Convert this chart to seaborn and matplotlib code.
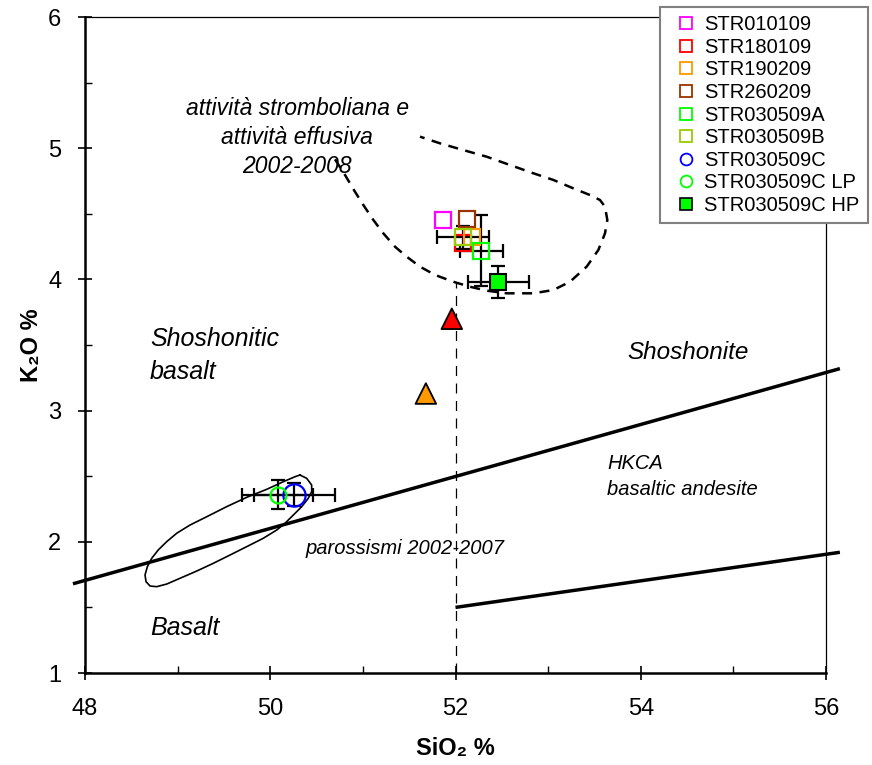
import numpy as np
import pandas as pd
import matplotlib
matplotlib.use('Agg')
import matplotlib.pyplot as plt
import seaborn as sns
from matplotlib.lines import Line2D

# sample data (SiO2 %, K2O %) with analytical errors
sample_names = ['STR010109', 'STR180109', 'STR190209', 'STR260209', 'STR030509A',
                'STR030509B', 'STR030509C', 'STR030509C LP', 'STR030509C HP']
sample_colors = ['#FF00FF', '#FF0000', '#FF9900', '#993300', '#00FF00',
                 '#99CC00', '#0000FF', '#00FF00', '#00FF00']
sample_markers = ['s', 's', 's', 's', 's', 's', 'o', 'o', 's']
sample_filled = [False, False, False, False, False, False, False, False, True]
sio2 = [51.87, 52.08, 52.18, 52.12, 52.28, 52.08, 50.26, 50.08, 52.46]
k2o = [4.45, 4.28, 4.32, 4.46, 4.22, 4.32, 2.36, 2.36, 3.98]
sio2_err = [0, 0, 0, 0, 0.23, 0.28, 0.44, 0.38, 0.33]
k2o_err = [0, 0, 0, 0, 0.27, 0.09, 0.09, 0.11, 0.12]

# triangles (no legend entry)
tri_sio2 = [51.96, 51.68]
tri_k2o = [3.70, 3.13]
tri_colors = ['#FF0000', '#FF9900']

# classification boundaries
shosho_line_x = [47.87, 56.15]
shosho_line_y = [1.68, 3.32]
hkca_line_x = [52.0, 56.15]
hkca_line_y = [1.50, 1.92]
split_x = [52.0, 52.0]
split_y = [1.0, 3.97]

# field of strombolian/effusive activity 2002-2008 (dashed)
field_a_x = [50.699, 50.807, 50.915, 51.005, 51.113, 51.221, 51.347, 51.473, 51.617, 51.779,
             51.976, 52.157, 52.337, 52.553, 52.840, 53.056, 53.236, 53.416, 53.542, 53.614,
             53.639, 53.614, 53.560, 53.452, 53.272, 53.056, 52.840, 52.588, 52.337, 52.084,
             51.833, 51.617]
field_a_y = [4.915, 4.796, 4.668, 4.567, 4.453, 4.351, 4.249, 4.173, 4.097, 4.034,
             3.982, 3.944, 3.914, 3.894, 3.894, 3.919, 3.982, 4.097, 4.224, 4.351,
             4.453, 4.554, 4.605, 4.643, 4.694, 4.758, 4.809, 4.872, 4.935, 4.986,
             5.037, 5.088]

# field of paroxysms 2002-2007 (closed solid)
field_p_x = [50.321, 50.393, 50.447, 50.447, 50.411, 50.340, 50.249, 50.159, 50.070, 49.925,
             49.746, 49.565, 49.385, 49.206, 49.026, 48.882, 48.774, 48.702, 48.659, 48.648,
             48.673, 48.720, 48.791, 48.882, 48.990, 49.134, 49.314, 49.530, 49.746, 49.962,
             50.141, 50.267, 50.321]
field_p_y = [2.509, 2.484, 2.433, 2.382, 2.332, 2.268, 2.204, 2.141, 2.090, 2.027,
             1.963, 1.899, 1.836, 1.777, 1.722, 1.678, 1.658, 1.663, 1.696, 1.747,
             1.810, 1.874, 1.938, 2.001, 2.065, 2.128, 2.191, 2.268, 2.339, 2.400,
             2.458, 2.496, 2.509]

sns.set_style('ticks')
plt.rcParams['font.family'] = ['Liberation Sans', 'DejaVu Sans']
plt.rcParams['text.color'] = 'black'
plt.rcParams['axes.labelcolor'] = 'black'
plt.rcParams['axes.edgecolor'] = 'black'
plt.rcParams['xtick.color'] = 'black'
plt.rcParams['ytick.color'] = 'black'

fig = plt.figure(figsize=(8.72, 7.65), dpi=100)
ax = fig.add_axes([85 / 872, 1 - 673 / 765, 741 / 872, 656 / 765])

# fields
sns.lineplot(x=field_a_x, y=field_a_y, sort=False, estimator=None, ax=ax,
             color='black', lw=1.8, linestyle=(0, (4, 3)))
sns.lineplot(x=field_p_x, y=field_p_y, sort=False, estimator=None, ax=ax,
             color='black', lw=1.2)

# boundaries
ax.plot(shosho_line_x, shosho_line_y, color='black', lw=2.5, clip_on=False, solid_capstyle='butt')
ax.plot(hkca_line_x, hkca_line_y, color='black', lw=2.5, clip_on=False, solid_capstyle='butt')
ax.plot(split_x, split_y, color='black', lw=0.9, linestyle=(0, (8, 6)))

# error bars
for i in range(len(sample_names)):
    if sio2_err[i] > 0 or k2o_err[i] > 0:
        ax.errorbar(sio2[i], k2o[i], xerr=sio2_err[i], yerr=k2o_err[i], fmt='none',
                    ecolor='black', elinewidth=1.6, capsize=5, capthick=1.6, zorder=3)

# sample markers
handles = []
for i, name in enumerate(sample_names):
    ms = 11.5
    if name == 'STR030509C':
        ms = 16
    if sample_filled[i]:
        ax.plot(sio2[i], k2o[i], marker=sample_markers[i], ms=11, mfc=sample_colors[i],
                mec='black', mew=1.5, ls='none', zorder=4)
        h = Line2D([], [], marker='s', ms=8.5, mfc=sample_colors[i], mec='black', mew=1.2, ls='none')
    else:
        ax.plot(sio2[i], k2o[i], marker=sample_markers[i], ms=ms, mfc='none',
                mec=sample_colors[i], mew=1.6, ls='none', zorder=4)
        h = Line2D([], [], marker=sample_markers[i], ms=8.5, mfc='none',
                   mec=sample_colors[i], mew=1.3, ls='none')
    handles.append(h)

tri_df = pd.DataFrame({'SiO2': tri_sio2, 'K2O': tri_k2o, 'c': ['a', 'b']})
sns.scatterplot(data=tri_df, x='SiO2', y='K2O', hue='c', palette=tri_colors, marker='^',
                s=220, edgecolor='black', linewidth=1.3, legend=False, ax=ax, zorder=5)

# labels in the diagram
ax.text(50.29, 5.08, 'attività stromboliana e\nattività effusiva\n2002-2008', ha='center',
        va='center', fontsize=16.5, style='italic', linespacing=1.32)
ax.text(48.70, 3.42, 'Shoshonitic\nbasalt', ha='left', va='center', fontsize=18,
        style='italic', linespacing=1.45)
ax.text(53.86, 3.44, 'Shoshonite', ha='left', va='center', fontsize=17.5, style='italic')
ax.text(53.64, 2.50, 'HKCA\nbasaltic andesite', ha='left', va='center', fontsize=14.5,
        style='italic', linespacing=1.45)
ax.text(50.38, 1.95, 'parossismi 2002-2007', ha='left', va='center', fontsize=14.5,
        style='italic')
ax.text(48.70, 1.34, 'Basalt', ha='left', va='center', fontsize=18, style='italic')

# axes
ax.set_xlim(48, 56)
ax.set_ylim(1, 6)
ax.set_xticks([48, 50, 52, 54, 56])
ax.set_yticks([1, 2, 3, 4, 5, 6])
ax.set_xticks([49, 51, 53, 55], minor=True)
ax.set_yticks([1.5, 2.5, 3.5, 4.5, 5.5], minor=True)
ax.tick_params(which='major', direction='inout', length=10, width=1.2, labelsize=17,
               colors='black')
ax.tick_params(axis='x', which='major', pad=13)
ax.tick_params(axis='y', which='major', pad=12)
ax.tick_params(which='minor', direction='in', length=5, width=1.0)
for s in ['left', 'bottom']:
    ax.spines[s].set_linewidth(1.8)
for s in ['top', 'right']:
    ax.spines[s].set_visible(True)
    ax.spines[s].set_linewidth(0.9)
ax.set_xlabel('SiO₂ %', fontsize=17, fontweight='bold', labelpad=12)
ax.set_ylabel('K₂O %', fontsize=17, fontweight='bold', labelpad=4)

leg = fig.legend(handles, sample_names, loc='upper left', bbox_to_anchor=(660 / 872, 1 - 7 / 765),
                 fontsize=14.5, frameon=True, fancybox=False, shadow=False, framealpha=1,
                 edgecolor='#808080', handlelength=1.8, handletextpad=0.0, labelspacing=0.18,
                 borderpad=0.4, borderaxespad=0)
leg.get_frame().set_linewidth(1.5)

fig.savefig('out.png', dpi=100)
